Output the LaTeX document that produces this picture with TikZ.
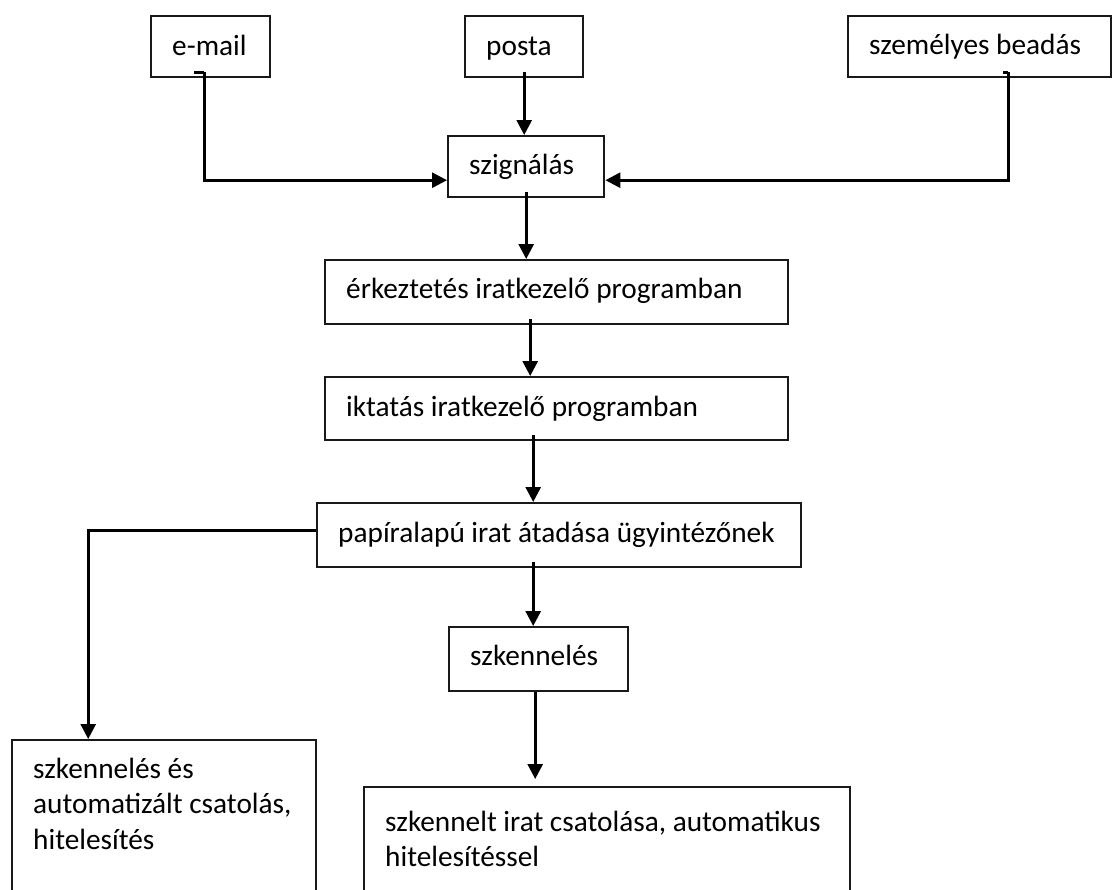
\documentclass[tikz,border=0pt]{standalone}
\usepackage{fontspec}
\setmainfont{Carlito}
\usetikzlibrary{arrows.meta}
% left padding of the text inside every box
\newcommand\boxindent{\hspace*{21pt}}
\begin{document}
\begin{tikzpicture}[x=1pt,y=-1pt,
  flowbox/.style={draw=black!90, line width=2.4pt, anchor=north west,
    inner xsep=0pt, inner ysep=0pt, align=flush left,
    font=\fontsize{29.3}{35.5}\selectfont},
  link/.style={line width=2.8pt, -{Triangle[length=15pt,width=15pt]}},
  plainlink/.style={line width=2.8pt}]
\useasboundingbox (0,0) rectangle (1115,889);

% sources
\node[flowbox, text width=119pt, text height=39pt, text depth=22pt] (email) at (150,15) {\boxindent e-mail};
\node[flowbox, text width=118pt, text height=39pt, text depth=22pt] (posta) at (464,15) {\boxindent posta};
\node[flowbox, text width=263pt, text height=38pt, text depth=23pt] (szem) at (847,15) {\boxindent személyes beadás};

% main chain
\node[flowbox, text width=156pt, text height=38pt, text depth=23pt] (szig) at (447,135) {\boxindent szignálás};
\node[flowbox, text width=463pt, text height=38pt, text depth=26pt] (erk) at (324,259) {\boxindent érkeztetés iratkezelő programban};
\node[flowbox, text width=463pt, text height=39pt, text depth=24pt] (ikt) at (324,376) {\boxindent iktatás iratkezelő programban};
\node[flowbox, text width=484pt, text height=39pt, text depth=25pt] (papir) at (316,502) {\boxindent papíralapú irat átadása ügyintézőnek};
\node[flowbox, text width=179pt, text height=38pt, text depth=26pt] (szk) at (448,626) {\boxindent szkennelés};

% outcomes
\node[flowbox, text width=304pt, text height=38pt, text depth=123pt] (auto) at (11,739)
  {\boxindent szkennelés és\\\boxindent automatizált csatolás,\\\boxindent hitelesítés};
\node[flowbox, text width=486pt, text height=44pt, text depth=70pt] (csat) at (363,786)
  {\boxindent szkennelt irat csatolása, automatikus\\\boxindent hitelesítéssel};

% connectors into the signing step
\draw[plainlink] ([xshift=-16.5pt,yshift=6pt]email.south) -- ([xshift=-6.5pt,yshift=6pt]email.south);
\draw[link] ([xshift=-6.5pt,yshift=6pt]email.south) |- ([yshift=-13.5pt]szig.west);
\draw[link] ([yshift=6pt]posta.south) -- (posta.south |- szig.north);
\draw[plainlink] ([xshift=23.5pt,yshift=6pt]szem.south) -- ([xshift=28.5pt,yshift=6pt]szem.south);
\draw[link] ([xshift=28.5pt,yshift=6pt]szem.south) |- ([yshift=-13.5pt]szig.east);

% main chain connectors
\draw[link] ([yshift=6pt]szig.south) -- (szig.south |- erk.north);
\draw[link] ([xshift=-26.5pt,yshift=6pt]erk.south) -- ([xshift=-26.5pt]ikt.north);
\draw[link] ([xshift=-23.5pt,yshift=6pt]ikt.south) -- ([xshift=-26pt]papir.north);
\draw[link] ([yshift=5pt]papir.west) -| ([xshift=-76pt]auto.north);
\draw[link] ([xshift=-26pt,yshift=6pt]papir.south) -- ([xshift=-5.5pt]szk.north);
\draw[link, shorten >=7pt] ([xshift=-3.5pt]szk.south) -- ([xshift=-72pt]csat.north);
\end{tikzpicture}
\end{document}
